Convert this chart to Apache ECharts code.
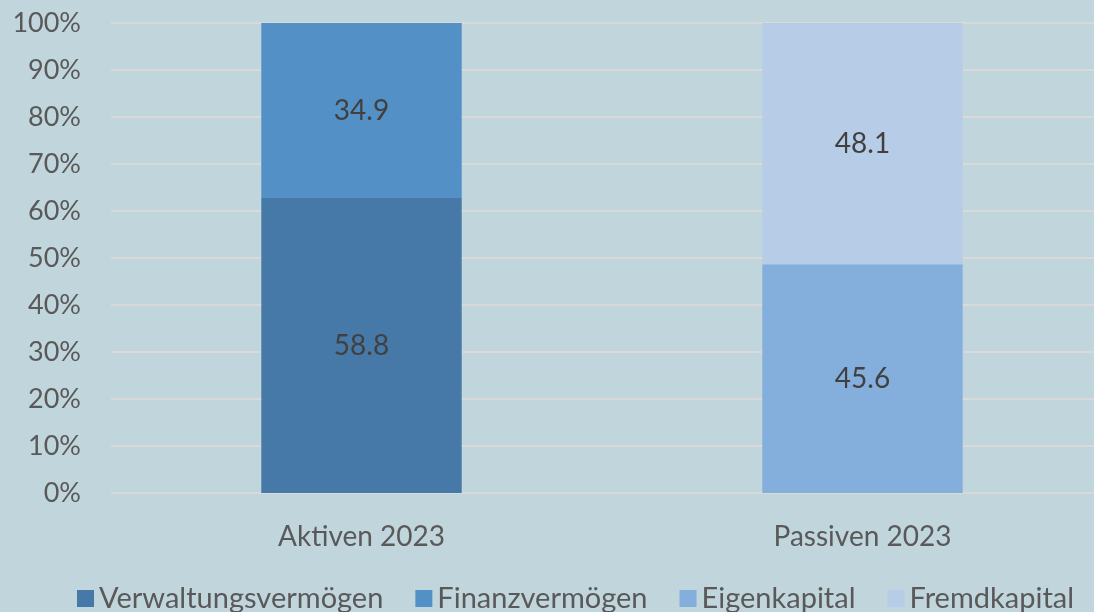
<!DOCTYPE html>
<html><head><meta charset="utf-8">
<script src="https://cdn.jsdelivr.net/npm/echarts@6/dist/echarts.min.js"></script>
<style>html,body{margin:0;padding:0;background:#C0D5DC;}#c{width:1094px;height:612px;}</style>
</head><body><div id="c"></div>
<script>
const categories = ['Aktiven 2023', 'Passiven 2023'];
const seriesNames = ['Verwaltungsvermögen', 'Finanzvermögen', 'Eigenkapital', 'Fremdkapital'];
const verwaltung = [58.8, null];
const finanz = [34.9, null];
const eigen = [null, 45.6];
const fremd = [null, 48.1];
const yTicks = [0, 10, 20, 30, 40, 50, 60, 70, 80, 90, 100];
const colors = ['#4679A8', '#5390C6', '#84AEDB', '#B7CDE7'];

const raw = [verwaltung, finanz, eigen, fremd];
const totals = categories.map((_, i) => raw.reduce((s, a) => s + (a[i] || 0), 0));
const font = 'Lato, "Open Sans", sans-serif';

const chart = echarts.init(document.getElementById('c'));
chart.setOption({
  backgroundColor: '#C0D5DC',
  animation: false,
  textStyle: { fontFamily: font },
  grid: { left: 111, width: 1002, top: 23, bottom: 119, outerBoundsMode: 'none', containLabel: false },
  legend: {
    top: 579, left: 72,
    itemWidth: 17, itemHeight: 17, itemGap: 32,
    icon: 'rect',
    textStyle: { fontSize: 29, color: '#595959', fontFamily: font },
    data: seriesNames
  },
  xAxis: {
    type: 'category', data: categories,
    axisLine: { show: false }, axisTick: { show: false },
    axisLabel: { fontSize: 28, color: '#595959', margin: 30, fontFamily: font }
  },
  yAxis: {
    type: 'value', min: 0, max: 100, interval: 10,
    axisLine: { show: false }, axisTick: { show: false },
    axisLabel: { fontSize: 27, color: '#595959', margin: 30, formatter: v => v + '%', fontFamily: font },
    splitLine: { lineStyle: { color: '#D9D9D9', width: 2 } }
  },
  series: raw.map((arr, k) => ({
    name: seriesNames[k], type: 'bar', stack: 'all', barWidth: '40%',
    itemStyle: { color: colors[k] },
    data: arr.map((v, i) => v == null ? null : { value: v / totals[i] * 100, raw: v }),
    label: {
      show: true, position: 'inside', fontSize: 28, color: '#404040', fontFamily: font,
      formatter: p => p.data && p.data.raw != null ? p.data.raw.toFixed(1) : ''
    }
  }))
});
</script></body></html>
